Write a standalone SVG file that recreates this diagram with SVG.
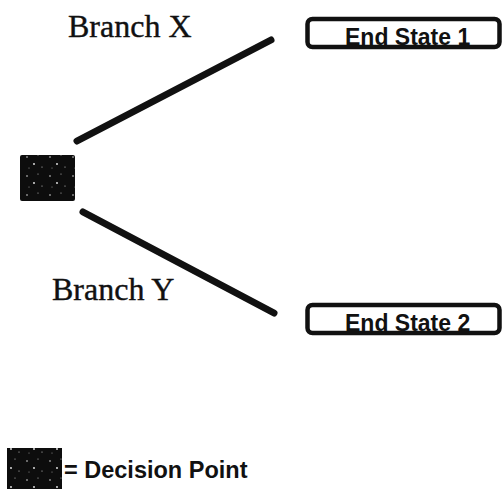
<svg xmlns="http://www.w3.org/2000/svg" width="502" height="489" viewBox="0 0 502 489">
  <style>
    .branch { font-family: "Liberation Serif", "Times New Roman", serif; font-size: 32px; fill: #111; stroke: #111; stroke-width: 0.4; }
    .state-box { fill: #fff; stroke: #111; stroke-width: 4.5; }
    .state-text { font-family: "Liberation Sans", Arial, sans-serif; font-weight: bold; font-size: 23px; fill: #111; }
    .edge { stroke: #111; stroke-width: 7; stroke-linecap: round; fill: none; }
    .legend-text { font-family: "Liberation Sans", Arial, sans-serif; font-weight: bold; font-size: 23.5px; fill: #111; }
  </style>
  <defs>
    <!-- dark fill with sparse light specks for decision points -->
    <pattern id="speckle" width="23" height="19" patternUnits="userSpaceOnUse">
      <rect width="23" height="19" fill="#0d0d0d"/>
      <circle cx="4" cy="5" r="0.8" fill="#ddd"/>
      <circle cx="15" cy="3" r="0.6" fill="#bbb"/>
      <circle cx="11" cy="12" r="0.9" fill="#eee"/>
      <circle cx="19" cy="15" r="0.6" fill="#ccc"/>
      <circle cx="6" cy="16" r="0.5" fill="#aaa"/>
    </pattern>
  </defs>

  <g id="connectors">
    <line class="edge" x1="77" y1="141" x2="271" y2="40"/>
    <line class="edge" x1="83" y1="212" x2="274" y2="313"/>
  </g>

  <g id="decision">
    <rect x="20" y="155" width="55" height="46" rx="2" fill="url(#speckle)"/>
  </g>

  <g id="label-branch-x">
    <text class="branch" x="68" y="37">Branch X</text>
  </g>

  <g id="label-branch-y">
    <text class="branch" x="52" y="300">Branch Y</text>
  </g>

  <g id="end-state-1">
    <rect class="state-box" x="307.5" y="19" width="192" height="28" rx="5"/>
    <text class="state-text" x="345" y="45">End State 1</text>
  </g>

  <g id="end-state-2">
    <rect class="state-box" x="307.5" y="305" width="192" height="28" rx="5"/>
    <text class="state-text" x="345" y="331">End State 2</text>
  </g>

  <g id="legend">
    <rect x="7" y="448" width="55" height="41" fill="url(#speckle)"/>
    <text class="legend-text" x="64" y="478">= Decision Point</text>
  </g>
</svg>
